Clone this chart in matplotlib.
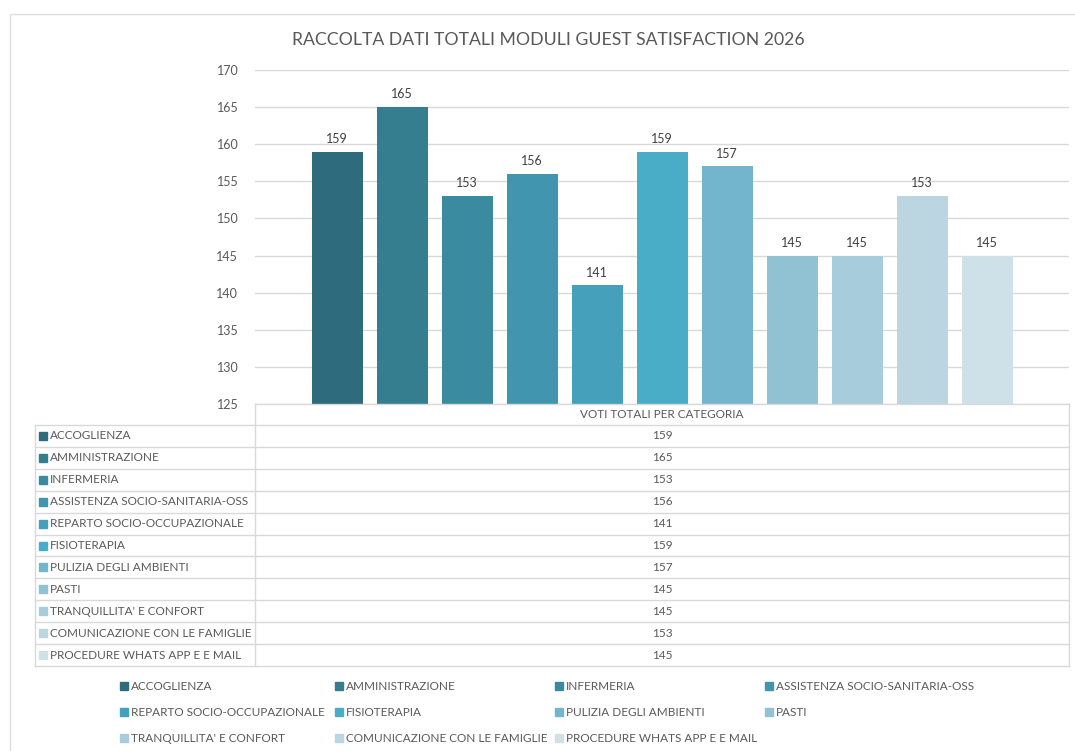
import matplotlib
matplotlib.use("Agg")
import matplotlib.pyplot as plt
from matplotlib.patches import Rectangle
from matplotlib.lines import Line2D

plt.rcParams['font.family'] = ['Lato', 'DejaVu Sans']

title = "RACCOLTA DATI TOTALI MODULI GUEST SATISFACTION 2026"
category = "VOTI TOTALI PER CATEGORIA"
series = ["ACCOGLIENZA", "AMMINISTRAZIONE", "INFERMERIA",
          "ASSISTENZA SOCIO-SANITARIA-OSS", "REPARTO SOCIO-OCCUPAZIONALE",
          "FISIOTERAPIA", "PULIZIA DEGLI AMBIENTI", "PASTI",
          "TRANQUILLITA' E CONFORT", "COMUNICAZIONE CON LE FAMIGLIE",
          "PROCEDURE WHATS APP E E MAIL"]
values = [159, 165, 153, 156, 141, 159, 157, 145, 145, 153, 145]
colors = ["#2E6B7C", "#357E8F", "#3A8BA0", "#4195AE", "#45A1BB", "#4AADC7",
          "#72B5CC", "#90C2D4", "#A7CDDC", "#BBD6E1", "#CEE0E8"]
yticks = [125, 130, 135, 140, 145, 150, 155, 160, 165, 170]

W, H = 1075, 751
TXT = "#595959"
GRID = "#D9D9D9"

fig = plt.figure(figsize=(W / 100, H / 100), dpi=100)

def fx(px):
    return px / W

def fy(py):
    return 1 - py / H

# outer chart frame
fig.add_artist(Rectangle((fx(10), -0.1), 1.2, fy(14) + 0.1, transform=fig.transFigure,
                         fill=False, edgecolor="#DDDDDD", lw=1))

plot_l, plot_r, plot_t, plot_b = 255, 1069, 70, 404
ax = fig.add_axes([fx(plot_l), fy(plot_b), fx(plot_r - plot_l), fy(plot_t) - fy(plot_b)])

n = len(values)
step = 65 / (plot_r - plot_l)
width = 51 / (plot_r - plot_l)
xs = [(i - (n - 1) / 2) * step for i in range(n)]
bars = ax.bar(xs, [v - 125 for v in values], bottom=125, width=width, color=colors, zorder=3)
for x, v in zip(xs, values):
    ax.text(x, v + 0.9, str(v), ha="center", va="bottom", fontsize=9, color="#404040")

ax.set_xlim(-0.5, 0.5)
ax.set_ylim(125, 170)
ax.set_yticks(yticks)
ax.set_yticklabels([str(t) for t in yticks], fontsize=9, color=TXT)
ax.tick_params(axis="y", length=0, pad=12)
ax.set_xticks([])
ax.grid(axis="y", color=GRID, lw=1, zorder=0)
for s in ax.spines.values():
    s.set_visible(False)

fig.text(fx(548), fy(40), title, ha="center", va="center", fontsize=12.7, color=TXT)

# data table
tl, tm, tr = 35, plot_l, plot_r
row_h = (666 - 425) / n
top = plot_b
fig.add_artist(Line2D([fx(tm), fx(tr)], [fy(top), fy(top)], color=GRID, lw=1))
fig.add_artist(Line2D([fx(tr), fx(tr)], [fy(top), fy(666)], color=GRID, lw=1))
fig.add_artist(Line2D([fx(tm), fx(tm)], [fy(top), fy(666)], color=GRID, lw=1))
fig.add_artist(Line2D([fx(tl), fx(tl)], [fy(425), fy(666)], color=GRID, lw=1))
fig.text(fx((tm + tr) / 2), fy((top + 425) / 2), category, ha="center", va="center",
         fontsize=8.5, color=TXT)
for i in range(n + 1):
    y = 425 + i * row_h
    fig.add_artist(Line2D([fx(tl), fx(tr)], [fy(y), fy(y)], color=GRID, lw=1))
for i, (name, v, c) in enumerate(zip(series, values, colors)):
    yc = 425 + (i + 0.5) * row_h
    fig.add_artist(Rectangle((fx(39), fy(yc + 4)), fx(8), fy(yc - 4) - fy(yc + 4),
                             transform=fig.transFigure, color=c))
    fig.text(fx(50), fy(yc), name, ha="left", va="center", fontsize=8.5, color=TXT)
    fig.text(fx((tm + tr) / 2), fy(yc), str(v), ha="center", va="center",
             fontsize=8.5, color=TXT)

# legend
leg_x = [120, 335, 555, 765]
leg_y = [686, 712, 738]
for i, (name, c) in enumerate(zip(series, colors)):
    lx = leg_x[i % 4]
    ly = leg_y[i // 4]
    fig.add_artist(Rectangle((fx(lx), fy(ly + 4)), fx(8), fy(ly - 4) - fy(ly + 4),
                             transform=fig.transFigure, color=c))
    fig.text(fx(lx + 11), fy(ly), name, ha="left", va="center", fontsize=8.5, color=TXT)

fig.savefig("out.png", dpi=100, facecolor="white")
